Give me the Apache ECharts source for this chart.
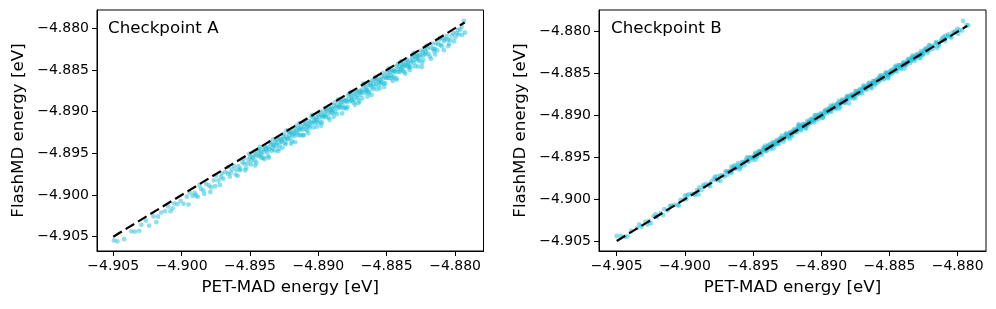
<!DOCTYPE html>
<html><head><meta charset="utf-8">
<script src="https://cdn.jsdelivr.net/npm/echarts@6/dist/echarts.min.js"></script>
<style>html,body{margin:0;padding:0;background:#fff}#c{width:996px;height:309px}</style>
</head><body><div id="c"></div>
<script>
const tickValues = [-4.905, -4.900, -4.895, -4.890, -4.885, -4.880];
const panelTitles = ['Checkpoint A', 'Checkpoint B'];
const xAxisName = 'PET-MAD energy [eV]';
const yAxisName = 'FlashMD energy [eV]';
const parityLineA = [-4.905, -4.8793];
const parityLineB = [-4.905, -4.8793];

const checkpointA = [
[-4.90495,-4.90545],[-4.90420,-4.90530],[-4.90368,-4.90436],[-4.90342,-4.90440],[-4.90295,-4.90357],[-4.90262,-4.90307],[-4.90238,-4.90366],[-4.90205,-4.90257],[-4.90172,-4.90260],[-4.90150,-4.90210],[-4.90121,-4.90193],[-4.90098,-4.90138],[-4.90082,-4.90194],[-4.90055,-4.90100],[-4.90030,-4.90110],[-4.90008,-4.90070],[-4.89986,-4.90106],[-4.89962,-4.90020],[-4.89941,-4.89971],[-4.89920,-4.90010],[-4.89905,-4.89975],[-4.89882,-4.90022],[-4.89860,-4.89925],[-4.89842,-4.89944],[-4.89821,-4.89869],[-4.89800,-4.89885],[-4.89785,-4.89910],[-4.89764,-4.89824],[-4.89748,-4.89768],[-4.89731,-4.89826],[-4.89712,-4.89784],[-4.89695,-4.89805],[-4.89680,-4.89725],[-4.89662,-4.89744],[-4.89648,-4.89780],[-4.89630,-4.89688],[-4.89615,-4.89650],[-4.89600,-4.89698],[-4.89584,-4.89654],[-4.89570,-4.89685],[-4.89555,-4.89607],[-4.89541,-4.89627],[-4.89528,-4.89678],[-4.89512,-4.89574],[-4.89500,-4.89540],
[-4.89490,-4.89585],[-4.89482,-4.89552],[-4.89471,-4.89481],[-4.89465,-4.89585],[-4.89458,-4.89513],[-4.89447,-4.89529],[-4.89440,-4.89475],[-4.89431,-4.89536],[-4.89422,-4.89490],[-4.89415,-4.89555],[-4.89406,-4.89454],[-4.89398,-4.89486],[-4.89390,-4.89415],[-4.89381,-4.89456],[-4.89372,-4.89484],[-4.89366,-4.89426],[-4.89357,-4.89449],[-4.89349,-4.89389],[-4.89340,-4.89470],[-4.89331,-4.89397],[-4.89324,-4.89408],[-4.89315,-4.89365],[-4.89307,-4.89409],[-4.89300,-4.89372],[-4.89291,-4.89321],[-4.89283,-4.89401],[-4.89276,-4.89334],[-4.89268,-4.89358],[-4.89259,-4.89304],[-4.89250,-4.89328],[-4.89243,-4.89378],[-4.89236,-4.89298],[-4.89228,-4.89326],[-4.89219,-4.89239],[-4.89212,-4.89282],[-4.89204,-4.89312],[-4.89197,-4.89249],[-4.89188,-4.89274],[-4.89180,-4.89218],[-4.89172,-4.89294],[-4.89165,-4.89229],[-4.89157,-4.89252],[-4.89148,-4.89196],[-4.89141,-4.89221],[-4.89133,-4.89283],[-4.89126,-4.89182],[-4.89117,-4.89217],[-4.89110,-4.89142],[-4.89102,-4.89176],[-4.89094,-4.89209],[-4.89087,-4.89147],[-4.89079,-4.89167],[-4.89070,-4.89112],[-4.89063,-4.89191],[-4.89055,-4.89123],[-4.89047,-4.89143],[-4.89040,-4.89065],[-4.89032,-4.89112],[-4.89023,-4.89133],[-4.89016,-4.89070],[-4.89008,-4.89098],[-4.89000,-4.89040],[-4.88992,-4.89064],[-4.88985,-4.89123],[-4.88977,-4.89039],[-4.88969,-4.89069],[-4.88962,-4.88997],[-4.88954,-4.89038],[-4.88946,-4.89064],[-4.88939,-4.88989],[-4.88931,-4.89023],[-4.88922,-4.88937],[-4.88915,-4.88985],[-4.88907,-4.89013],[-4.88900,-4.88958],[-4.88892,-4.88977],[-4.88884,-4.88928],[-4.88877,-4.89002],[-4.88869,-4.88935],[-4.88861,-4.88959],[-4.88853,-4.88883],[-4.88846,-4.88924],[-4.88838,-4.88950],[-4.88830,-4.88885],[-4.88823,-4.88911],[-4.88815,-4.88855],[-4.88806,-4.88951],[-4.88799,-4.88861],[-4.88791,-4.88885],[-4.88783,-4.88805],[-4.88776,-4.88850],[-4.88768,-4.88876],[-4.88760,-4.88812],[-4.88753,-4.88835],[-4.88745,-4.88781],[-4.88737,-4.88857],[-4.88729,-4.88793],[-4.88722,-4.88818],[-4.88714,-4.88760],[-4.88706,-4.88896],[-4.88699,-4.88777],[-4.88691,-4.88795],[-4.88683,-4.88739],[-4.88676,-4.88762],[-4.88668,-4.88696],[-4.88660,-4.88776],[-4.88652,-4.88720],[-4.88645,-4.88737],[-4.88637,-4.88679],[-4.88630,-4.88760],[-4.88622,-4.88682],[-4.88614,-4.88698],[-4.88606,-4.88624],[-4.88599,-4.88671],[-4.88591,-4.88701],[-4.88583,-4.88633],[-4.88576,-4.88666],[-4.88568,-4.88606],[-4.88560,-4.88684],[-4.88553,-4.88619],[-4.88545,-4.88643],[-4.88537,-4.88581],[-4.88529,-4.88609],[-4.88522,-4.88662],[-4.88514,-4.88572],[-4.88506,-4.88594],[-4.88498,-4.88528],[-4.88491,-4.88567],[-4.88483,-4.88597],[-4.88475,-4.88529],[-4.88468,-4.88562],[-4.88460,-4.88500],[-4.88452,-4.88578],[-4.88445,-4.88509],[-4.88437,-4.88523],[-4.88429,-4.88453],[-4.88421,-4.88491],[-4.88414,-4.88522],[-4.88406,-4.88458],[-4.88398,-4.88490],[-4.88391,-4.88427],[-4.88383,-4.88503],[-4.88375,-4.88437],[-4.88368,-4.88450],[-4.88360,-4.88404],[-4.88352,-4.88452],[-4.88345,-4.88411],[-4.88337,-4.88469],[-4.88329,-4.88387],[-4.88322,-4.88412],[-4.88314,-4.88348],[-4.88306,-4.88382],[-4.88299,-4.88411],[-4.88291,-4.88341],[-4.88283,-4.88369],[-4.88276,-4.88316],[-4.88268,-4.88372],[-4.88260,-4.88322],[-4.88252,-4.88332],[-4.88244,-4.88464],[-4.88237,-4.88285],[-4.88229,-4.88325],[-4.88221,-4.88251],[-4.88214,-4.88284],
[-4.88195,-4.88305],[-4.88178,-4.88233],[-4.88160,-4.88245],[-4.88154,-4.88276],[-4.88140,-4.88180],[-4.88122,-4.88190],[-4.88105,-4.88200],[-4.88088,-4.88123],[-4.88070,-4.88130],[-4.88052,-4.88132],[-4.88035,-4.88140],[-4.88008,-4.88158],[-4.88012,-4.88057],[-4.87990,-4.88060],[-4.87975,-4.88075],[-4.87962,-4.88017],[-4.87952,-4.87980],[-4.87935,-4.87912],[-4.87927,-4.88053],[-4.87950,-4.88080],
[-4.89574,-4.89704],[-4.89546,-4.89566],[-4.89518,-4.89623],[-4.89493,-4.89633],[-4.89476,-4.89536],[-4.89453,-4.89613],[-4.89436,-4.89451],[-4.89418,-4.89513],[-4.89402,-4.89552],[-4.89386,-4.89441],[-4.89369,-4.89534],[-4.89353,-4.89363],[-4.89336,-4.89436],[-4.89319,-4.89464],[-4.89303,-4.89328],[-4.89287,-4.89447],[-4.89271,-4.89356],[-4.89254,-4.89266],[-4.89239,-4.89389],[-4.89222,-4.89332],[-4.89208,-4.89248],[-4.89192,-4.89357],[-4.89176,-4.89266],[-4.89161,-4.89169],[-4.89144,-4.89279],[-4.89129,-4.89204],[-4.89113,-4.89283],[-4.89098,-4.89116],[-4.89083,-4.89223],[-4.89067,-4.89167],[-4.89051,-4.89056],[-4.89036,-4.89191],[-4.89020,-4.89100],[-4.89004,-4.89134],[-4.88988,-4.89000],[-4.88973,-4.89133],[-4.88958,-4.89053],[-4.88942,-4.88972],[-4.88926,-4.89071],[-4.88911,-4.88971],[-4.88896,-4.89016],[-4.88880,-4.88888],[-4.88865,-4.89030],[-4.88849,-4.88939],[-4.88834,-4.88859],[-4.88818,-4.88958],[-4.88802,-4.88872],[-4.88787,-4.88942],[-4.88772,-4.88782],[-4.88756,-4.88866],[-4.88741,-4.88891],[-4.88725,-4.88745],[-4.88710,-4.88835],[-4.88694,-4.88754],[-4.88679,-4.88839],[-4.88664,-4.88669],[-4.88648,-4.88748],[-4.88633,-4.88778],[-4.88618,-4.88653],[-4.88602,-4.88732],[-4.88587,-4.88602],[-4.88572,-4.88732],[-4.88556,-4.88636],[-4.88541,-4.88661],[-4.88526,-4.88534],[-4.88510,-4.88660],[-4.88495,-4.88595],[-4.88480,-4.88500],[-4.88464,-4.88599],[-4.88449,-4.88514],[-4.88433,-4.88598],[-4.88418,-4.88428],[-4.88402,-4.88522],[-4.88387,-4.88467],[-4.88372,-4.88522],[-4.88356,-4.88374],[-4.88341,-4.88446],[-4.88326,-4.88466],[-4.88310,-4.88322],[-4.88295,-4.88455],[-4.88279,-4.88339],[-4.88264,-4.88389],[-4.88248,-4.88268],[-4.88233,-4.88378],[-4.88218,-4.88308],[-4.88202,-4.88242],[-4.88186,-4.88336],[-4.88168,-4.88183],[-4.88148,-4.88248],[-4.88130,-4.88265],[-4.88115,-4.88135],[-4.88096,-4.88216],[-4.88080,-4.88155],[-4.88062,-4.88092],[-4.88044,-4.88184],[-4.88025,-4.88085],[-4.87998,-4.88108],[-4.87980,-4.88020],
[-4.90470,-4.90555],[-4.90310,-4.90430],[-4.90185,-4.90325],[-4.90065,-4.90160],[-4.89895,-4.90005],[-4.89835,-4.89985],[-4.89755,-4.89895],[-4.89705,-4.89740],[-4.89640,-4.89730],[-4.89605,-4.89755],
[-4.89950,-4.90115],[-4.89870,-4.89880],[-4.89790,-4.89965],[-4.89720,-4.89880],[-4.89660,-4.89665],[-4.89590,-4.89770],[-4.89535,-4.89705],[-4.89505,-4.89505],[-4.89462,-4.89647],[-4.89428,-4.89423],[-4.89395,-4.89570],[-4.89362,-4.89552],[-4.89330,-4.89332],[-4.89296,-4.89476],[-4.89262,-4.89432],[-4.89232,-4.89224],[-4.89200,-4.89385],[-4.89170,-4.89365],[-4.89138,-4.89138],[-4.89106,-4.89281],[-4.89074,-4.89259],[-4.89044,-4.89038],[-4.89012,-4.89182],[-4.88980,-4.89170],[-4.88950,-4.88955],[-4.88918,-4.89098],[-4.88888,-4.89063],[-4.88856,-4.88852],[-4.88826,-4.89021],[-4.88794,-4.88964],[-4.88762,-4.88762],[-4.88732,-4.88917],[-4.88700,-4.88875],[-4.88670,-4.88660],[-4.88640,-4.88820],[-4.88610,-4.88800],[-4.88580,-4.88582],[-4.88550,-4.88720],[-4.88518,-4.88703],[-4.88486,-4.88481],[-4.88456,-4.88631],[-4.88426,-4.88616],[-4.88394,-4.88398],[-4.88364,-4.88544],[-4.88332,-4.88502],[-4.88302,-4.88294],[-4.88272,-4.88457],[-4.88240,-4.88415],[-4.88208,-4.88208],[-4.88176,-4.88366],[-4.88145,-4.88315],[-4.88110,-4.88115],[-4.88082,-4.88262],[-4.88050,-4.88215]
];

const checkpointB = [
[-4.90500,-4.90440],[-4.90440,-4.90450],[-4.90395,-4.90380],[-4.90350,-4.90345],[-4.90318,-4.90330],[-4.90290,-4.90270],[-4.90262,-4.90260],[-4.90230,-4.90205],[-4.90205,-4.90213],[-4.90178,-4.90166],[-4.90150,-4.90120],[-4.90128,-4.90133],[-4.90100,-4.90082],[-4.90078,-4.90070],[-4.90055,-4.90070],[-4.90032,-4.90010],[-4.90010,-4.90005],[-4.89990,-4.90000],[-4.89972,-4.89944],[-4.89950,-4.89938],[-4.89932,-4.89936],[-4.89912,-4.89892],[-4.89895,-4.89860],[-4.89878,-4.89890],[-4.89860,-4.89850],[-4.89842,-4.89818],[-4.89825,-4.89831],[-4.89808,-4.89792],[-4.89790,-4.89760],[-4.89775,-4.89771],[-4.89758,-4.89772],[-4.89742,-4.89720],[-4.89726,-4.89716],[-4.89710,-4.89730],[-4.89695,-4.89669],[-4.89680,-4.89674],[-4.89664,-4.89672],[-4.89650,-4.89632],[-4.89635,-4.89597],[-4.89620,-4.89624],[-4.89606,-4.89594],[-4.89592,-4.89608],[-4.89578,-4.89554],[-4.89564,-4.89562],[-4.89550,-4.89535],[-4.89536,-4.89546],[-4.89522,-4.89502],[-4.89508,-4.89500],
[-4.89495,-4.89501],[-4.89487,-4.89465],[-4.89479,-4.89469],[-4.89471,-4.89485],[-4.89463,-4.89433],[-4.89455,-4.89451],[-4.89447,-4.89429],[-4.89439,-4.89447],[-4.89431,-4.89417],[-4.89423,-4.89397],[-4.89415,-4.89417],[-4.89407,-4.89397],[-4.89399,-4.89417],[-4.89391,-4.89371],[-4.89383,-4.89377],[-4.89375,-4.89341],[-4.89367,-4.89377],[-4.89359,-4.89347],[-4.89351,-4.89349],[-4.89343,-4.89319],[-4.89335,-4.89341],[-4.89327,-4.89311],[-4.89319,-4.89341],[-4.89311,-4.89303],[-4.89303,-4.89275],[-4.89295,-4.89299],[-4.89287,-4.89273],[-4.89279,-4.89277],[-4.89271,-4.89283],[-4.89263,-4.89243],[-4.89255,-4.89219],[-4.89247,-4.89241],[-4.89239,-4.89247],[-4.89231,-4.89215],[-4.89223,-4.89239],[-4.89215,-4.89205],[-4.89207,-4.89181],[-4.89199,-4.89201],[-4.89191,-4.89179],[-4.89183,-4.89193],[-4.89175,-4.89153],[-4.89167,-4.89163],[-4.89159,-4.89119],[-4.89151,-4.89165],[-4.89143,-4.89129],[-4.89135,-4.89133],[-4.89127,-4.89103],[-4.89119,-4.89125],[-4.89111,-4.89101],[-4.89103,-4.89123],[-4.89095,-4.89077],[-4.89087,-4.89081],[-4.89079,-4.89049],[-4.89071,-4.89079],[-4.89063,-4.89051],[-4.89055,-4.89057],[-4.89047,-4.89027],[-4.89039,-4.89053],[-4.89031,-4.89023],[-4.89023,-4.88995],[-4.89015,-4.89013],[-4.89007,-4.89017],[-4.88999,-4.88983],[-4.88991,-4.88987],[-4.88983,-4.89001],[-4.88975,-4.88953],[-4.88967,-4.88957],[-4.88959,-4.88927],[-4.88951,-4.88955],[-4.88943,-4.88929],[-4.88935,-4.88947],[-4.88927,-4.88921],[-4.88919,-4.88895],[-4.88911,-4.88913],[-4.88903,-4.88891],[-4.88895,-4.88911],[-4.88887,-4.88869],[-4.88879,-4.88875],[-4.88871,-4.88826],[-4.88863,-4.88871],[-4.88855,-4.88841],[-4.88847,-4.88821],[-4.88839,-4.88843],[-4.88831,-4.88821],[-4.88823,-4.88843],[-4.88815,-4.88795],[-4.88807,-4.88805],[-4.88799,-4.88769],[-4.88791,-4.88801],[-4.88783,-4.88767],[-4.88775,-4.88777],[-4.88767,-4.88745],[-4.88759,-4.88773],[-4.88751,-4.88743],[-4.88743,-4.88709],[-4.88735,-4.88731],[-4.88727,-4.88735],[-4.88719,-4.88701],[-4.88711,-4.88729],[-4.88703,-4.88693],[-4.88695,-4.88669],[-4.88687,-4.88689],[-4.88679,-4.88665],[-4.88671,-4.88683],[-4.88663,-4.88643],[-4.88655,-4.88649],[-4.88647,-4.88611],[-4.88639,-4.88645],[-4.88631,-4.88619],[-4.88623,-4.88621],[-4.88615,-4.88591],[-4.88607,-4.88617],[-4.88599,-4.88583],[-4.88591,-4.88611],[-4.88583,-4.88575],[-4.88575,-4.88547],[-4.88567,-4.88571],[-4.88559,-4.88545],[-4.88551,-4.88547],[-4.88543,-4.88557],[-4.88535,-4.88515],[-4.88527,-4.88489],[-4.88519,-4.88513],[-4.88511,-4.88519],[-4.88503,-4.88487],[-4.88495,-4.88511],[-4.88487,-4.88477],[-4.88479,-4.88453],[-4.88471,-4.88473],[-4.88463,-4.88451],[-4.88455,-4.88465],[-4.88447,-4.88425],[-4.88439,-4.88435],[-4.88431,-4.88399],[-4.88423,-4.88435],[-4.88415,-4.88401],[-4.88407,-4.88405],[-4.88399,-4.88375],[-4.88391,-4.88397],[-4.88383,-4.88373],[-4.88375,-4.88393],[-4.88367,-4.88349],[-4.88359,-4.88353],[-4.88351,-4.88323],[-4.88343,-4.88351],[-4.88335,-4.88323],[-4.88327,-4.88329],[-4.88319,-4.88299],[-4.88311,-4.88325],[-4.88303,-4.88295],[-4.88295,-4.88265],[-4.88287,-4.88285],[-4.88279,-4.88289],[-4.88271,-4.88255],[-4.88263,-4.88259],[-4.88255,-4.88271],[-4.88247,-4.88225],[-4.88239,-4.88229],[-4.88231,-4.88197],[-4.88223,-4.88227],[-4.88215,-4.88201],[-4.88207,-4.88219],
[-4.88190,-4.88172],[-4.88172,-4.88168],[-4.88155,-4.88125],[-4.88140,-4.88148],[-4.88122,-4.88106],[-4.88105,-4.88065],[-4.88090,-4.88088],[-4.88072,-4.88052],[-4.88055,-4.88061],[-4.88038,-4.88012],[-4.88020,-4.88010],[-4.88002,-4.87966],[-4.87985,-4.87979],[-4.87968,-4.87986],[-4.87960,-4.87872],[-4.87935,-4.87923],[-4.87922,-4.87924],
[-4.89703,-4.89671],[-4.89688,-4.89710],[-4.89672,-4.89667],[-4.89657,-4.89687],[-4.89641,-4.89613],[-4.89626,-4.89638],[-4.89610,-4.89570],[-4.89595,-4.89620],[-4.89579,-4.89564],[-4.89564,-4.89596],[-4.89548,-4.89514],[-4.89533,-4.89551],[-4.89517,-4.89509],[-4.89502,-4.89530],[-4.89485,-4.89447],[-4.89469,-4.89489],[-4.89453,-4.89427],[-4.89437,-4.89471],[-4.89421,-4.89379],[-4.89405,-4.89429],[-4.89389,-4.89359],[-4.89373,-4.89403],[-4.89357,-4.89321],[-4.89341,-4.89355],[-4.89325,-4.89293],[-4.89309,-4.89335],[-4.89293,-4.89271],[-4.89277,-4.89313],[-4.89261,-4.89221],[-4.89245,-4.89265],[-4.89229,-4.89201],[-4.89213,-4.89243],[-4.89197,-4.89163],[-4.89181,-4.89203],[-4.89165,-4.89105],[-4.89149,-4.89177],[-4.89133,-4.89103],[-4.89117,-4.89151],[-4.89101,-4.89065],[-4.89085,-4.89103],[-4.89069,-4.89043],[-4.89053,-4.89083],[-4.89037,-4.88997],[-4.89021,-4.89045],[-4.89005,-4.88975],[-4.88989,-4.89025],[-4.88973,-4.88939],[-4.88957,-4.88977],[-4.88941,-4.88913],[-4.88925,-4.88957],[-4.88909,-4.88871],[-4.88893,-4.88919],[-4.88877,-4.88853],[-4.88861,-4.88895],[-4.88845,-4.88809],[-4.88829,-4.88851],[-4.88813,-4.88783],[-4.88797,-4.88857],[-4.88781,-4.88753],[-4.88765,-4.88795],[-4.88749,-4.88709],[-4.88733,-4.88751],[-4.88717,-4.88685],[-4.88701,-4.88735],[-4.88685,-4.88659],[-4.88669,-4.88693],[-4.88653,-4.88615],[-4.88637,-4.88667],[-4.88621,-4.88591],[-4.88605,-4.88641],[-4.88589,-4.88567],[-4.88573,-4.88593],[-4.88557,-4.88523],[-4.88541,-4.88569],[-4.88525,-4.88489],[-4.88509,-4.88541],[-4.88493,-4.88465],[-4.88477,-4.88499],[-4.88461,-4.88421],[-4.88445,-4.88475],[-4.88429,-4.88403],[-4.88413,-4.88447],[-4.88397,-4.88365],[-4.88381,-4.88399],[-4.88365,-4.88327],[-4.88349,-4.88375],[-4.88333,-4.88303],[-4.88317,-4.88349],[-4.88301,-4.88277],[-4.88285,-4.88313],[-4.88269,-4.88233],[-4.88253,-4.88273],[-4.88237,-4.88207],[-4.88221,-4.88255],[-4.88205,-4.88165],[-4.88182,-4.88206],[-4.88160,-4.88130],[-4.88138,-4.88168],[-4.88115,-4.88087],[-4.88092,-4.88112],[-4.88068,-4.88032],[-4.88045,-4.88071],[-4.88020,-4.87996],[-4.87995,-4.88025],
[-4.90470,-4.90440],[-4.90420,-4.90445],[-4.90335,-4.90303],[-4.90275,-4.90303],[-4.90215,-4.90180],[-4.90160,-4.90190],[-4.90110,-4.90082],[-4.90045,-4.90077],[-4.89985,-4.89955],[-4.89925,-4.89951],[-4.89865,-4.89831],[-4.89815,-4.89845],[-4.89765,-4.89729],
[-4.89780,-4.89735],[-4.89740,-4.89782],[-4.89660,-4.89612],[-4.89600,-4.89645],[-4.89540,-4.89498],[-4.89480,-4.89528],[-4.89410,-4.89360],[-4.89350,-4.89394],[-4.89290,-4.89244],[-4.89230,-4.89280],[-4.89170,-4.89126],[-4.89110,-4.89156],[-4.89050,-4.89000],[-4.88990,-4.89032],[-4.88930,-4.88882],[-4.88870,-4.88920],[-4.88810,-4.88766],[-4.88750,-4.88796],[-4.88690,-4.88640],[-4.88630,-4.88674],[-4.88570,-4.88524],[-4.88510,-4.88558],[-4.88450,-4.88406],[-4.88390,-4.88440],[-4.88330,-4.88282],[-4.88270,-4.88314],[-4.88210,-4.88164],[-4.88150,-4.88192],[-4.88090,-4.88046],[-4.90000,-4.89958],[-4.90250,-4.90290],[-4.89900,-4.89944]
];

const FONT = 'DejaVu Sans';
const fmt = v => v.toFixed(3).replace('-', '\u2212');
const ranges = [
  {x: [-4.90619, -4.87792], y: [-4.906715, -4.877805]},
  {x: [-4.90630, -4.87792], y: [-4.906194, -4.877408]}
];
const grids = [
  {left: 97, top: 10, width: 386.5, height: 241},
  {left: 599, top: 10, width: 387, height: 241}
];
function mkAxis(i, dim) {
  const isX = dim === 'x';
  return {
    type: 'value', gridIndex: i,
    min: ranges[i][dim][0], max: ranges[i][dim][1],
    axisLine: {show: true, onZero: false, lineStyle: {color: '#000', width: 1}},
    axisTick: {show: true, length: 5, customValues: tickValues, lineStyle: {color: '#000', width: 1}},
    axisLabel: {customValues: tickValues, formatter: fmt, color: '#000', fontSize: 14, fontFamily: FONT, margin: 8},
    splitLine: {show: false},
    name: isX ? xAxisName : yAxisName,
    nameLocation: 'middle',
    nameGap: isX ? 28 : 70,
    nameTextStyle: {color: '#000', fontSize: 16.7, fontFamily: FONT}
  };
}
const scatterColor = 'rgba(24,186,214,0.6)';
const option = {
  animation: false,
  backgroundColor: '#fff',
  grid: grids.map(g => Object.assign({show: true, borderColor: '#000', borderWidth: 1, backgroundColor: 'transparent'}, g)),
  xAxis: [mkAxis(0, 'x'), mkAxis(1, 'x')],
  yAxis: [mkAxis(0, 'y'), mkAxis(1, 'y')],
  graphic: [
    {type: 'text', left: 108, top: 20, style: {text: panelTitles[0], font: '16.7px "DejaVu Sans"', fill: '#000'}},
    {type: 'text', left: 611, top: 20, style: {text: panelTitles[1], font: '16.7px "DejaVu Sans"', fill: '#000'}}
  ],
  series: [
    {type: 'scatter', xAxisIndex: 0, yAxisIndex: 0, data: checkpointA, symbolSize: 4.8, itemStyle: {color: scatterColor}, z: 2},
    {type: 'line', xAxisIndex: 0, yAxisIndex: 0, data: [[parityLineA[0], parityLineA[0]], [parityLineA[1], parityLineA[1]]], symbol: 'none', lineStyle: {color: '#000', width: 2.2, type: [10, 4.5]}, z: 3},
    {type: 'scatter', xAxisIndex: 1, yAxisIndex: 1, data: checkpointB, symbolSize: 4.8, itemStyle: {color: scatterColor}, z: 2},
    {type: 'line', xAxisIndex: 1, yAxisIndex: 1, data: [[parityLineB[0], parityLineB[0]], [parityLineB[1], parityLineB[1]]], symbol: 'none', lineStyle: {color: '#000', width: 2.2, type: [10, 4.5]}, z: 3}
  ]
};
const chart = echarts.init(document.getElementById('c'), null, {renderer: 'canvas'});
chart.setOption(option);
</script></body></html>
